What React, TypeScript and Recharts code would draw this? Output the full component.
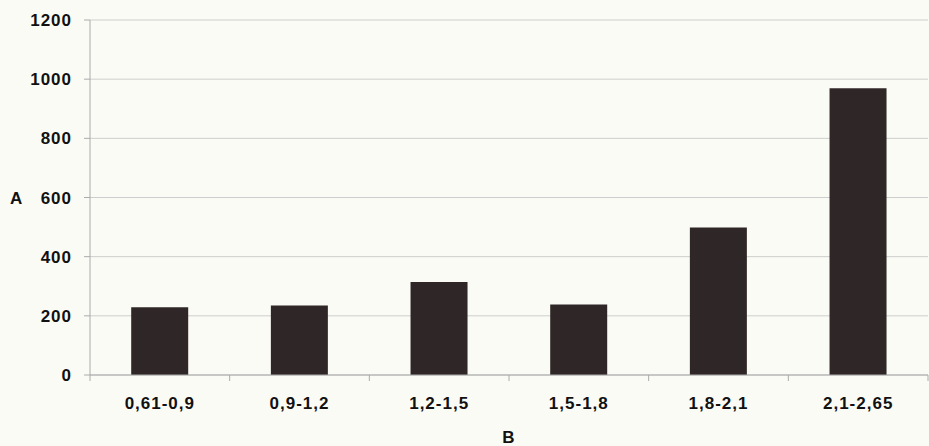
import { BarChart, Bar, XAxis, YAxis, CartesianGrid, Label } from "recharts";

const categories = ["0,61-0,9", "0,9-1,2", "1,2-1,5", "1,5-1,8", "1,8-2,1", "2,1-2,65"];
const values = [229, 235, 314, 238, 499, 969];
const yTicks = [0, 200, 400, 600, 800, 1000, 1200];

const data = categories.map((name, i) => ({ name, value: values[i] }));

const textStyle = {
  fontFamily: "'Liberation Sans', Arial, sans-serif",
  fontWeight: 700,
  fontSize: 17,
  fill: "#111",
  letterSpacing: 1,
};

function EdgeTick(props: any) {
  const { x, y, payload, index, visibleTicksCount } = props;
  const half = payload?.offset ?? 0;
  const isLast = index === visibleTicksCount - 1;
  return (
    <g>
      <line x1={x - half} y1={y - 9} x2={x - half} y2={y - 3} stroke="#aaa" />
      {isLast && <line x1={x + half} y1={y - 9} x2={x + half} y2={y - 3} stroke="#aaa" />}
      <text x={x} y={y + 25} textAnchor="middle" style={textStyle}>
        {payload.value}
      </text>
    </g>
  );
}

export default function App() {
  return (
    <div style={{ position: "absolute", left: 0, top: 0, width: 929, height: 446, background: "#fbfbf6" }}>
      <BarChart width={929} height={446} data={data} margin={{ top: 20, right: 1, left: 0, bottom: 0 }} barCategoryGap="29.5%">
        <CartesianGrid stroke="#cdcdcd" vertical={false} />
        <XAxis
          dataKey="name"
          height={71}
          axisLine={{ stroke: "#aaa" }}
          tickLine={false}
          tickSize={7}
          tick={<EdgeTick />}
          interval={0}
        >
          <Label value="B" position="insideBottom" offset={3} style={textStyle} />
        </XAxis>
        <YAxis
          width={90}
          domain={[0, 1200]}
          ticks={yTicks}
          axisLine={{ stroke: "#aaa" }}
          tickLine={{ stroke: "#aaa" }}
          tickSize={6}
          tickMargin={12}
          tick={textStyle}
        >
          <Label value="A" position="insideLeft" offset={10} style={textStyle} />
        </YAxis>
        <Bar dataKey="value" fill="#2f2727" isAnimationActive={false} />
      </BarChart>
    </div>
  );
}
